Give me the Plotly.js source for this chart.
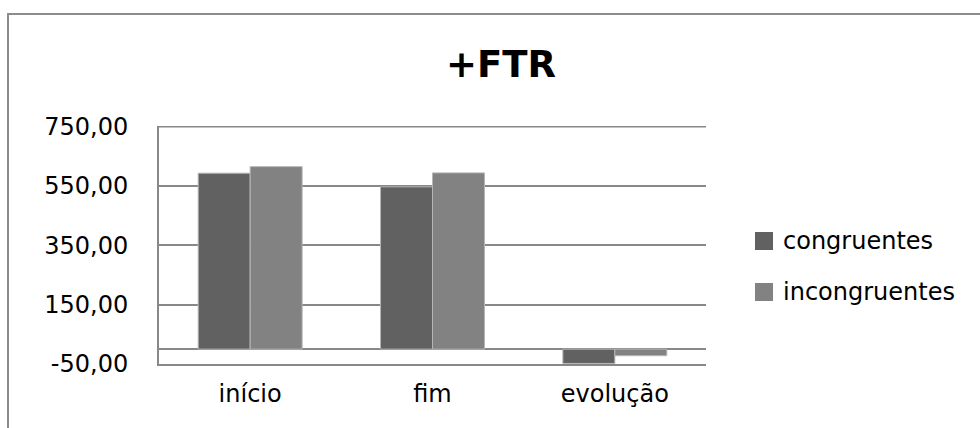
<!DOCTYPE html>
<html>
<head>
<meta charset="utf-8">
<script src="https://cdn.plot.ly/plotly-3.0.1.min.js"></script>
<style>
  html, body { margin: 0; padding: 0; background: #fff; }
  #chart { width: 980px; height: 428px; }
</style>
</head>
<body>
<div id="chart"></div>
<script>
// Mean reaction values per phase, for the +FTR condition
const categories = ['início', 'fim', 'evolução'];
const seriesNames = ['congruentes', 'incongruentes'];
const congruentes = [593, 547, -48];
const incongruentes = [615, 594, -22];
const tickValues = [-50, 150, 350, 550, 750];
const tickLabels = ['-50,00', '150,00', '350,00', '550,00', '750,00'];

const W = 980, H = 428;
const M = { l: 159, r: 274, t: 126, b: 64 };
const plotW = W - M.l - M.r, plotH = H - M.t - M.b;
// pixel -> paper helpers for decorations placed outside the plot area
const px = x => (x - M.l) / plotW;
const py = y => (H - M.b - y) / plotH;

const colors = ['#616161', '#828282'];
const gridColor = '#888888';
const font = 'DejaVu Sans, Verdana, sans-serif';

const traces = [congruentes, incongruentes].map((vals, i) => ({
  type: 'bar',
  name: seriesNames[i],
  x: categories,
  y: vals,
  marker: { color: colors[i], line: { color: '#b5b5b5', width: 1 } },
  showlegend: false,
  hoverinfo: 'skip'
}));

// Hand-built legend: large square swatches followed by series names
const legendY = [241, 292];
const shapes = [
  // outer chart frame
  { type: 'rect', xref: 'paper', yref: 'paper',
    x0: px(8), x1: px(1000), y0: py(14), y1: py(440),
    line: { color: '#8c8c8c', width: 2 }, fillcolor: 'rgba(0,0,0,0)', layer: 'below' },
  // top gridline at 750
  { type: 'line', xref: 'paper', yref: 'y', x0: 0, x1: 1, y0: 750, y1: 750,
    line: { color: gridColor, width: 2 }, layer: 'below' }
];
const annotations = [];
seriesNames.forEach((name, i) => {
  shapes.push({ type: 'rect', xref: 'paper', yref: 'paper',
    x0: px(755), x1: px(773), y0: py(legendY[i] - 9), y1: py(legendY[i] + 9),
    line: { width: 0 }, fillcolor: colors[i] });
  annotations.push({ xref: 'paper', yref: 'paper', x: px(781), y: py(legendY[i]),
    xanchor: 'left', yanchor: 'middle', showarrow: false, text: name,
    font: { family: font, size: 24, color: '#000' } });
});

const layout = {
  width: W, height: H,
  margin: M,
  paper_bgcolor: '#fff', plot_bgcolor: '#fff',
  barmode: 'group', bargap: 0.43, bargroupgap: 0,
  title: { text: '+FTR', x: 501 / W, xanchor: 'center', xref: 'container',
    y: 1 - 64 / H, yanchor: 'middle', yref: 'container',
    font: { family: font, size: 37, color: '#000', weight: 'bold' } },
  xaxis: {
    type: 'category', showgrid: false, showline: true, linecolor: gridColor, linewidth: 2,
    ticks: '', tickfont: { family: font, size: 24, color: '#000' },
    ticklabelstandoff: 7, fixedrange: true
  },
  yaxis: {
    range: [-50, 752], tickmode: 'array', tickvals: tickValues, ticktext: tickLabels,
    showgrid: true, gridcolor: gridColor, gridwidth: 2,
    showline: true, linecolor: gridColor, linewidth: 2,
    zeroline: true, zerolinecolor: gridColor, zerolinewidth: 2,
    ticks: '', tickfont: { family: font, size: 24, color: '#000' },
    ticklabelstandoff: 24, fixedrange: true
  },
  shapes: shapes,
  annotations: annotations,
  font: { family: font }
};

Plotly.newPlot('chart', traces, layout, { displayModeBar: false, staticPlot: true });
</script>
</body>
</html>
